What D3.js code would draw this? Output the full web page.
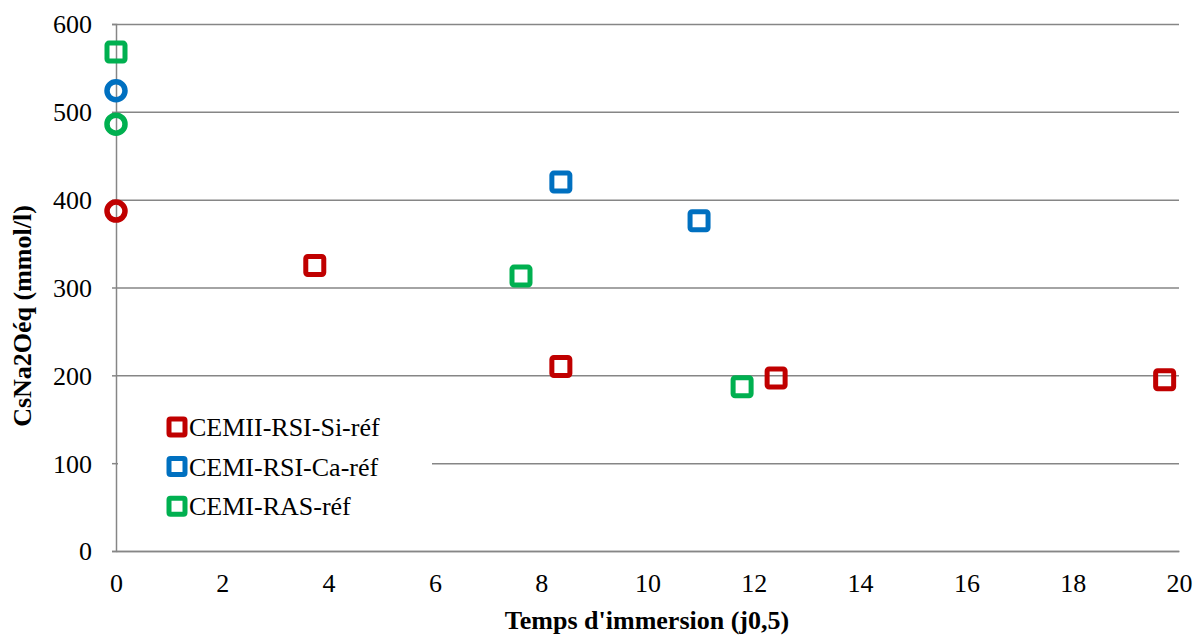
<!DOCTYPE html>
<html>
<head>
<meta charset="utf-8">
<script src="https://cdn.jsdelivr.net/npm/d3@7"></script>
<style>
  html, body { margin: 0; padding: 0; background: #fff; }
  svg { display: block; }
  text { font-family: "Liberation Serif", "Times New Roman", serif; fill: #000; }
</style>
</head>
<body>
<svg id="chart" width="1203" height="635"></svg>
<script>
// Series: immersion time (x) and CsNa2Oéq concentration (y), square markers
const seriesNames = ["CEMII-RSI-Si-réf", "CEMI-RSI-Ca-réf", "CEMI-RAS-réf"];
const seriesColors = ["#c00000", "#0070c0", "#00b050"];

const siX = [3.74, 8.37, 12.42, 19.73];
const siY = [325, 210, 197, 195];
const caX = [8.37, 10.97];
const caY = [420, 376];
const rasX = [7.62, 11.78, 0];
const rasY = [313, 187, 568];

// Initial values at t = 0, drawn as circles
const initX = [0, 0, 0];
const initY = [387, 524, 486];

const xTicks = [0, 2, 4, 6, 8, 10, 12, 14, 16, 18, 20];
const yTicks = [0, 100, 200, 300, 400, 500, 600];

const svg = d3.select("#chart");
const x = d3.scaleLinear().domain([0, 20]).range([116, 1179]);
const y = d3.scaleLinear().domain([0, 600]).range([551, 24]);
const gridColor = "#868686";
const fontSize = "26px";

// horizontal gridlines
svg.append("g")
  .attr("transform", "translate(116,0)")
  .call(d3.axisLeft(y).tickValues(yTicks).tickSize(-(1179 - 116)).tickFormat(""))
  .call(g => g.select(".domain").remove())
  .call(g => g.selectAll("line").attr("stroke", gridColor).attr("stroke-width", 1.5));

// legend background hides the gridline behind it
const legend = svg.append("g");
legend.append("rect")
  .attr("x", 118).attr("y", 400).attr("width", 314).attr("height", 128)
  .attr("fill", "#fff");

// y axis with short outside ticks
const yAxis = svg.append("g")
  .attr("transform", "translate(116,0)")
  .call(d3.axisLeft(y).tickValues(yTicks).tickSize(4).tickPadding(20).tickFormat(d3.format("d")));
yAxis.select(".domain").attr("stroke", gridColor).attr("stroke-width", 1.5);
yAxis.selectAll("line").attr("stroke", gridColor).attr("stroke-width", 1.5);
yAxis.selectAll("text")
  .style("font-family", "Liberation Serif").style("font-size", fontSize)
  .attr("fill", "#000").attr("dy", "0.34em");

// x axis
const xAxis = svg.append("g")
  .attr("transform", "translate(0,551)")
  .call(d3.axisBottom(x).tickValues(xTicks).tickSize(0).tickPadding(0).tickFormat(d3.format("d")));
xAxis.select(".domain").attr("stroke", gridColor).attr("stroke-width", 1.5);
xAxis.selectAll("text")
  .style("font-family", "Liberation Serif").style("font-size", fontSize)
  .attr("fill", "#000").attr("y", 41).attr("dy", null);

// axis titles
svg.append("text")
  .attr("x", 647).attr("y", 629)
  .attr("text-anchor", "middle")
  .style("font-size", fontSize).style("font-weight", "bold")
  .text("Temps d'immersion (j0,5)");
svg.append("text")
  .attr("transform", "translate(31,316) rotate(-90)")
  .attr("text-anchor", "middle")
  .style("font-size", fontSize).style("font-weight", "bold")
  .text("CsNa2Oéq (mmol/l)");

// legend entries
seriesNames.forEach((name, i) => {
  const cy = 427 + i * 39.6;
  legend.append("rect")
    .attr("x", 177 - 8).attr("y", cy - 8).attr("width", 16).attr("height", 16)
    .attr("rx", 1.5)
    .attr("fill", "none").attr("stroke", seriesColors[i]).attr("stroke-width", 5);
  legend.append("text")
    .attr("x", 189).attr("y", cy + 9)
    .style("font-size", fontSize)
    .text(name);
});

// data markers
const series = [
  { xs: siX, ys: siY, color: seriesColors[0] },
  { xs: caX, ys: caY, color: seriesColors[1] },
  { xs: rasX, ys: rasY, color: seriesColors[2] }
];
const side = 18;
series.forEach(s => {
  svg.append("g").selectAll("rect")
    .data(s.xs.map((d, i) => [d, s.ys[i]]))
    .join("rect")
    .attr("x", d => x(d[0]) - side / 2)
    .attr("y", d => y(d[1]) - side / 2)
    .attr("width", side).attr("height", side)
    .attr("rx", 2)
    .attr("fill", "none").attr("stroke", s.color).attr("stroke-width", 5);
});

// initial-value circles
svg.append("g").selectAll("circle")
  .data(initX.map((d, i) => [d, initY[i], seriesColors[i]]))
  .join("circle")
  .attr("cx", d => x(d[0]))
  .attr("cy", d => y(d[1]))
  .attr("r", 9)
  .attr("fill", "none").attr("stroke", d => d[2]).attr("stroke-width", 5.5);
</script>
</body>
</html>
